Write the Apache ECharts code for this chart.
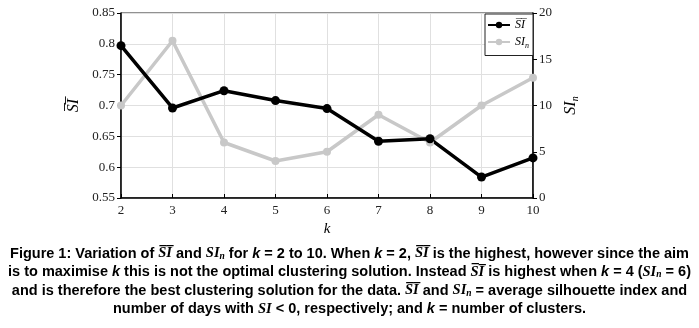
<!DOCTYPE html>
<html><head><meta charset="utf-8">
<script src="https://cdn.jsdelivr.net/npm/echarts@6/dist/echarts.min.js"></script>
<style>html,body{margin:0;padding:0;background:#fff}#c{width:699px;height:328px}</style>
</head><body><div id="c"></div>
<script>
const kValues = ['2','3','4','5','6','7','8','9','10'];
const siMean = [0.797, 0.696, 0.724, 0.708, 0.695, 0.642, 0.646, 0.584, 0.615];
const siNeg = [10, 17, 6, 4, 5, 9, 6, 10, 13];
const leftTicks = {min: 0.55, max: 0.85, step: 0.05};
const rightTicks = {min: 0, max: 20, step: 5};
const captionLines = [
  [['b','Figure 1: Variation of '],['si','S\u0305I\u0305'],['b',' and '],['si','SI'],['sub','n'],['b',' for '],['k','k'],['b',' = 2 to 10. When '],['k','k'],['b',' = 2, '],['si','S\u0305I\u0305'],['b',' is the highest, however since the aim']],
  [['b','is to maximise '],['k','k'],['b',' this is not the optimal clustering solution. Instead '],['si','S\u0305I\u0305'],['b',' is highest when '],['k','k'],['b',' = 4 ('],['si','SI'],['sub','n'],['b',' = 6)']],
  [['b','and is therefore the best clustering solution for the data. '],['si','S\u0305I\u0305'],['b',' and '],['si','SI'],['sub','n'],['b',' = average silhouette index and']],
  [['b','number of days with '],['si','SI'],['b',' < 0, respectively; and '],['k','k'],['b',' = number of clusters.']]
];

const chart = echarts.init(document.getElementById('c'));
const serif = '"Liberation Serif", "Times New Roman", serif';
const capFont = '"Liberation Sans Narrow", "Arial Narrow", "Liberation Sans", Arial, sans-serif';
function fmt(v){ return String(parseFloat(v.toFixed(2))); }
const capRich = {
  b: {fontFamily: capFont, fontWeight: 'bold', fontSize: 14.5, color: '#000'},
  k: {fontFamily: capFont, fontWeight: 'bold', fontStyle: 'italic', fontSize: 14.5, color: '#000'},
  si: {fontFamily: serif, fontWeight: 'bold', fontStyle: 'italic', fontSize: 14.5, color: '#000'},
  sub: {fontFamily: serif, fontWeight: 'bold', fontStyle: 'italic', fontSize: 9.5, color: '#000', verticalAlign: 'bottom', padding: [6,0,0,0]}
};
const graphics = captionLines.map((line, i) => ({
  type: 'text', left: 'center', top: 246 + i * 18.5,
  style: {text: line.map(p => '{' + p[0] + '|' + p[1] + '}').join(''), rich: capRich}
}));

chart.setOption({
  animation: false,
  grid: {left: 121, right: 166, top: 13, bottom: 130, show: true, borderColor: '#222', borderWidth: 1},
  legend: {
    top: 14, right: 166, orient: 'vertical', itemWidth: 22, itemHeight: 8, itemGap: 5,
    backgroundColor: '#fff', borderColor: '#222', borderWidth: 1, padding: [5,4,6,2],
    formatter: function(name){ return name === 'mean' ? '{s|S\u0305I\u0305}' : '{s|SI}{n|n}'; },
    textStyle: {rich: {
      s: {fontFamily: serif, fontStyle: 'italic', fontSize: 12, color: '#000'},
      n: {fontFamily: serif, fontStyle: 'italic', fontSize: 8, color: '#000', verticalAlign: 'bottom', padding: [7,0,0,0]}
    }},
    data: ['mean', 'neg']
  },
  xAxis: {
    type: 'category', data: kValues, boundaryGap: false,
    axisLine: {lineStyle: {color: '#000', width: 1.5}},
    axisTick: {inside: true, length: 4, lineStyle: {color: '#000'}},
    axisLabel: {fontFamily: serif, fontSize: 13, color: '#222', margin: 6},
    splitLine: {show: true, lineStyle: {color: '#e0e0e0'}},
    name: 'k', nameLocation: 'middle', nameGap: 16,
    nameTextStyle: {fontFamily: serif, fontStyle: 'italic', fontSize: 15, color: '#000'}
  },
  yAxis: [{
    type: 'value', min: leftTicks.min, max: leftTicks.max, interval: leftTicks.step,
    axisLine: {show: true, lineStyle: {color: '#000', width: 1.5}},
    axisTick: {show: true, length: 4, lineStyle: {color: '#000'}},
    axisLabel: {fontFamily: serif, fontSize: 13, color: '#222', margin: 6, formatter: fmt},
    splitLine: {show: true, lineStyle: {color: '#e0e0e0'}},
    name: 'S\u0305I\u0305', nameLocation: 'middle', nameGap: 30, nameRotate: 90,
    nameTextStyle: {fontFamily: serif, fontStyle: 'italic', fontSize: 16, color: '#000'}
  }, {
    type: 'value', min: rightTicks.min, max: rightTicks.max, interval: rightTicks.step, position: 'right',
    axisLine: {show: true, lineStyle: {color: '#000', width: 1.5}},
    axisTick: {show: true, length: 4, lineStyle: {color: '#000'}},
    axisLabel: {fontFamily: serif, fontSize: 13, color: '#222', margin: 6},
    splitLine: {show: false},
    name: '{s|SI}{n|n}', nameLocation: 'middle', nameGap: 24, nameRotate: 90,
    nameTextStyle: {rich: {
      s: {fontFamily: serif, fontStyle: 'italic', fontSize: 16, color: '#000'},
      n: {fontFamily: serif, fontStyle: 'italic', fontSize: 10, color: '#000', verticalAlign: 'bottom', padding: [8,0,0,0]}
    }}
  }],
  series: [{
    name: 'neg', type: 'line', yAxisIndex: 1, data: siNeg,
    symbol: 'circle', symbolSize: 8,
    lineStyle: {color: '#c8c8c8', width: 3.5}, itemStyle: {color: '#c8c8c8'}
  }, {
    name: 'mean', type: 'line', yAxisIndex: 0, data: siMean,
    symbol: 'circle', symbolSize: 9,
    lineStyle: {color: '#000', width: 3.5}, itemStyle: {color: '#000'}
  }],
  graphic: graphics
});
</script></body></html>
